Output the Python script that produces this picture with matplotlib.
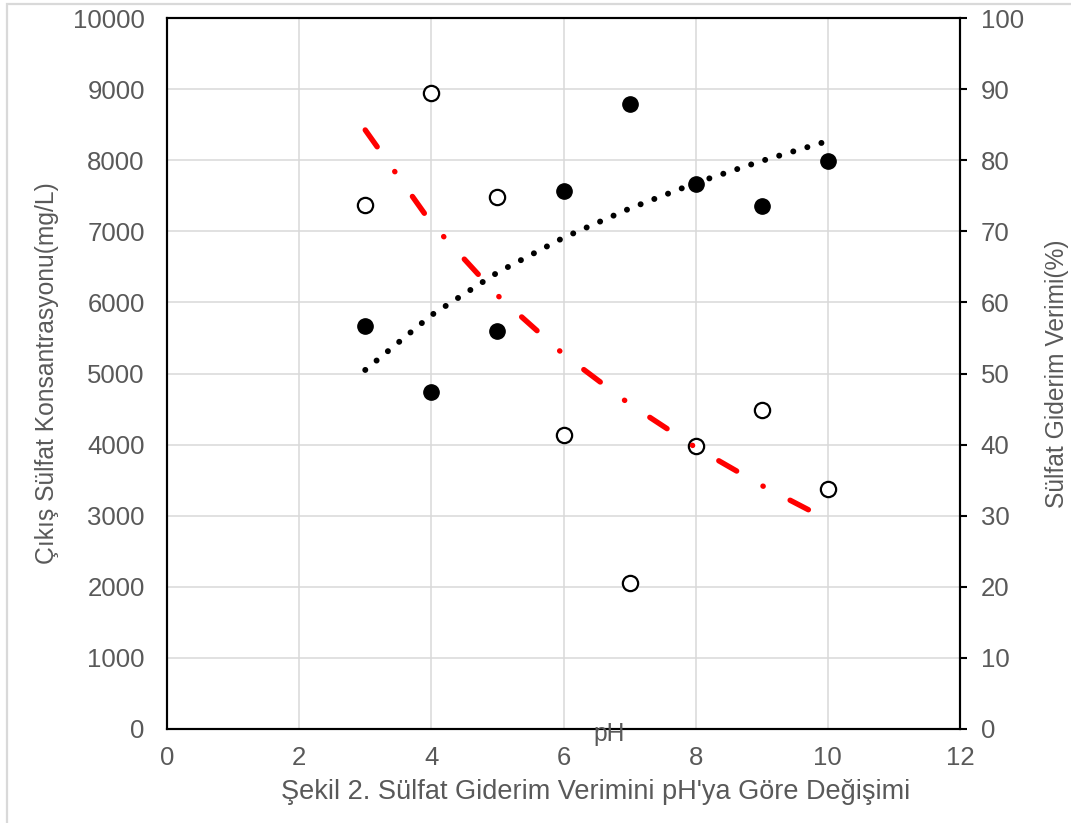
import matplotlib
matplotlib.use("Agg")
import matplotlib.pyplot as plt
from matplotlib.patches import Rectangle

# ── Data ───────────────────────────────────────────────────────────────────────
ph = [3, 4, 5, 6, 7, 8, 9, 10]
sulfate_out = [7370, 8945, 7485, 4135, 2055, 3980, 4490, 3380]   # mg/L, left axis
removal_eff = [56.7, 47.4, 56.0, 75.6, 87.9, 76.6, 73.6, 79.9]   # %, right axis

# trend lines
red_trend_x = [3.0, 4.0, 5.0, 6.0, 7.0, 8.0, 9.0, 9.9]
red_trend_y = [8425, 7115, 6100, 5270, 4570, 3960, 3425, 2990]
black_trend_x = [3, 4, 5, 6, 7, 8, 9, 10]
black_trend_y = [50.5, 58.2, 64.2, 69.1, 73.2, 76.8, 79.9, 82.7]

x_ticks = [0, 2, 4, 6, 8, 10, 12]
left_ticks = list(range(0, 10001, 1000))
right_ticks = list(range(0, 101, 10))

# ── Style ──────────────────────────────────────────────────────────────────────
TEXT = "#595959"
GRID = "#d9d9d9"
FONT = "Liberation Sans"
TICK_FS = 18.5
LABEL_FS = 17.7
TITLE_FS = 19.5

plt.rcParams.update({
    "font.family": [FONT, "DejaVu Sans"],
    "font.size": TICK_FS,
})

W, H = 1071, 823
fig = plt.figure(figsize=(W / 100, H / 100), dpi=100)
ax = fig.add_axes([167 / W, 1 - 729 / H, (960 - 167) / W, (729 - 18) / H])
ax2 = ax.twinx()

# left axis: concentration
ax.plot(ph, sulfate_out, "o", ms=11, mfc="white", mec="black", mew=1.6,
        zorder=3, clip_on=False)
ax.plot(red_trend_x, red_trend_y, color="#ff0000", lw=3.9,
        dashes=(3.8, 5.6, 0.05, 5.6), dash_capstyle="round", zorder=4)

# right axis: efficiency
ax2.plot(ph, removal_eff, "o", ms=11, mfc="black", mec="black", zorder=3)
ax2.plot(black_trend_x, black_trend_y, color="black", lw=4.3,
         dashes=(0.01, 2.45), dash_capstyle="round", zorder=4)

ax.set_xlim(0, 12)
ax.set_ylim(0, 10000)
ax2.set_ylim(0, 100)
ax.set_xticks(x_ticks)
ax.set_yticks(left_ticks)
ax2.set_yticks(right_ticks)

ax.grid(True, color=GRID, lw=1.1, zorder=0)
ax.set_axisbelow(True)

for a in (ax, ax2):
    for s in a.spines.values():
        s.set_color("black")
        s.set_linewidth(1.5)

ax.tick_params(axis="y", length=0, pad=16, labelcolor=TEXT, labelsize=TICK_FS)
ax.tick_params(axis="x", length=0, pad=12, labelcolor=TEXT, labelsize=TICK_FS)
ax2.tick_params(axis="y", direction="out", length=5, width=1.5, pad=10,
                labelcolor=TEXT, labelsize=TICK_FS)

ax.set_ylabel("Çıkış Sülfat Konsantrasyonu(mg/L)", color=TEXT, fontsize=LABEL_FS)
ax2.set_ylabel("Sülfat Giderim Verimi(%)", color=TEXT, fontsize=LABEL_FS)
ax.yaxis.set_label_coords((59 - 167) / (960 - 167), 0.5)
ax2.yaxis.set_label_coords((1045 - 167) / (960 - 167), 0.5)

fig.text(609 / W, 1 - 734 / H, "pH", color=TEXT, fontsize=LABEL_FS,
         ha="center", va="center")
fig.text(596 / W, 1 - 792 / H, "Şekil 2. Sülfat Giderim Verimini pH'ya Göre Değişimi",
         color=TEXT, fontsize=TITLE_FS, ha="center", va="center")

# outer chart border (only left/top visible in crop)
fig.patches.append(Rectangle((7 / W, -0.05), 1.1, 1 - 4 / H + 0.05,
                             transform=fig.transFigure, fill=False,
                             edgecolor=GRID, lw=1.6, zorder=0))

fig.savefig("out.png", dpi=100, facecolor="white")
